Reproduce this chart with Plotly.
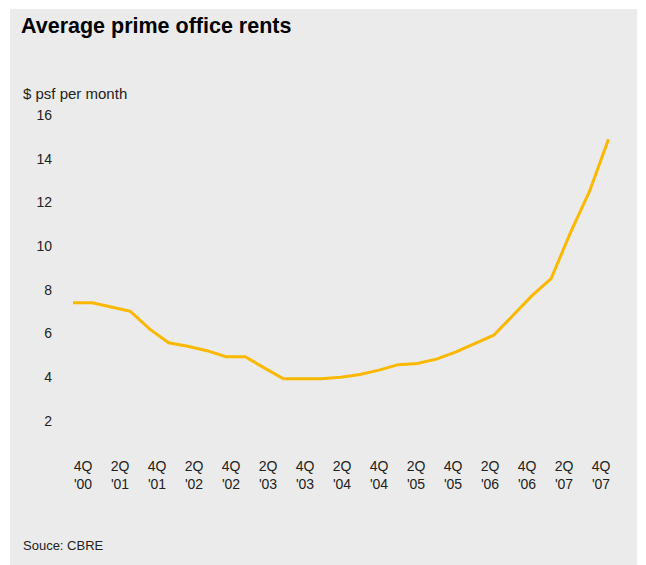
import plotly.graph_objects as go

# Quarterly average prime office rents, 4Q 2000 - 4Q 2007 ($ psf per month)
quarters = [
    "4Q '00",
    "1Q '01", "2Q '01", "3Q '01", "4Q '01",
    "1Q '02", "2Q '02", "3Q '02", "4Q '02",
    "1Q '03", "2Q '03", "3Q '03", "4Q '03",
    "1Q '04", "2Q '04", "3Q '04", "4Q '04",
    "1Q '05", "2Q '05", "3Q '05", "4Q '05",
    "1Q '06", "2Q '06", "3Q '06", "4Q '06",
    "1Q '07", "2Q '07", "3Q '07", "4Q '07",
]
rents = [
    7.41,
    7.41, 7.21, 7.01, 6.21,
    5.57, 5.41, 5.21, 4.93,
    4.93, 4.42, 3.92, 3.92,
    3.92, 3.99, 4.12, 4.32,
    4.57, 4.62, 4.82, 5.14,
    5.52, 5.92, 6.82, 7.73,
    8.51, 10.6, 12.5, 14.9,
]
y_ticks = [2, 4, 6, 8, 10, 12, 14, 16]
# half-yearly axis labels
x_labels = [q.replace(" ", "<br>") for q in quarters[::2]]

W, H = 646, 565
L, R, T, B = 60, 20, 100, 115
PW, PH = W - L - R, H - T - B

def px_x(px):
    return (px - L) / PW

def px_y(py):
    return 1 - (py - T) / PH

# horizontal scale: first quarter at x=73px, last at x=608.5px
X0_PX, X1_PX = 73, 608.5
n = len(quarters) - 1
x_scale = (X1_PX - X0_PX) / n
x_range = [(L - X0_PX) / x_scale, (L + PW - X0_PX) / x_scale]

# half-yearly labels are set on an evenly spaced row from 83px to 601px
lab_px = [83 + i * (601 - 83) / (len(x_labels) - 1) for i in range(len(x_labels))]
lab_vals = [(p - X0_PX) / x_scale for p in lab_px]

# vertical scale: 16 at y=115.3px, 2 at y=420.7px
y_scale = (420.7 - 115.3) / (16 - 2)
y_range = [16 - (T + PH - 115.3) / y_scale, 16 + (115.3 - T) / y_scale]

idx = list(range(len(quarters)))
fig = go.Figure()
fig.add_trace(go.Scatter(
    x=idx, y=rents, mode="lines",
    line=dict(color="#FBB800", width=3),
    hoverinfo="skip", showlegend=False,
))

font = "Liberation Sans, Arial, Helvetica, sans-serif"
grey = "#ebebeb"
ink = "#222222"

fig.update_layout(
    width=W, height=H,
    margin=dict(l=L, r=R, t=T, b=B),
    paper_bgcolor="white",
    plot_bgcolor=grey,
    font=dict(family=font, size=14, color=ink),
    title=dict(
        text="<b>Average prime office rents</b>",
        font=dict(family=font, size=21.5, color="#000000"),
        xref="container", yref="container",
        x=21 / W, xanchor="left",
        y=1 - 18 / H, yanchor="top",
        pad=dict(l=0, r=0, t=0, b=0),
    ),
    xaxis=dict(
        range=x_range,
        tickmode="array", tickvals=lab_vals, ticktext=x_labels,
        showgrid=False, zeroline=False, showline=False, ticks="",
        tickfont=dict(family=font, size=14, color=ink),
        ticklabelstandoff=6,
    ),
    yaxis=dict(
        range=y_range,
        tickmode="array", tickvals=y_ticks,
        showgrid=False, zeroline=False, showline=False, ticks="",
        tickfont=dict(family=font, size=14, color=ink),
        ticklabelstandoff=7,
    ),
    shapes=[
        # grey panel behind the whole chart
        dict(type="rect", xref="paper", yref="paper", layer="below",
             x0=px_x(10), x1=px_x(637), y0=px_y(565), y1=px_y(9),
             fillcolor=grey, line=dict(width=0)),
    ],
    annotations=[
        dict(text="$ psf per month", xref="paper", yref="paper",
             x=px_x(21), y=px_y(93), xanchor="left", yanchor="middle",
             showarrow=False, font=dict(family=font, size=15, color=ink)),
        dict(text="Souce: CBRE", xref="paper", yref="paper",
             x=px_x(21), y=px_y(545), xanchor="left", yanchor="middle",
             showarrow=False, font=dict(family=font, size=13, color=ink)),
    ],
)

fig.write_html("out.html")
